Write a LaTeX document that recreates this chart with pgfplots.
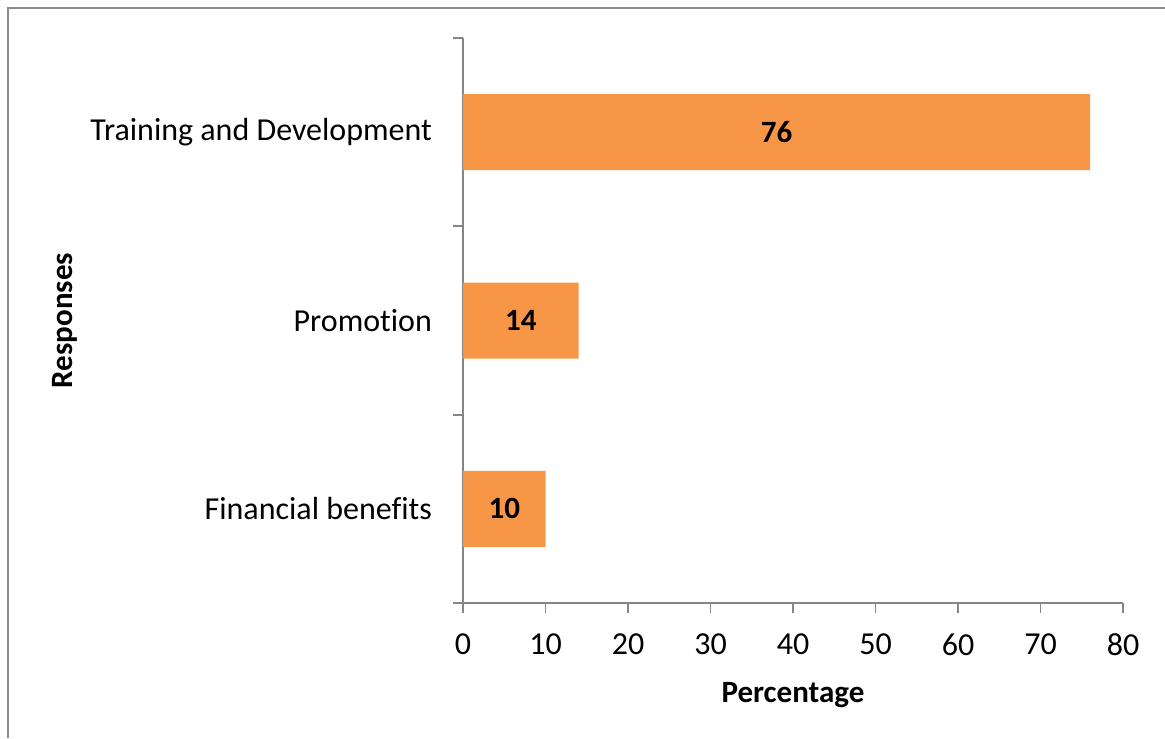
\documentclass[border=0pt]{standalone}
\usepackage{pgfplots}
\pgfplotsset{compat=1.18}
\usepackage{pgfplotstable}
\usepackage{fontspec}
\setmainfont{Carlito}[Ligatures=NoCommon]
\definecolor{barorange}{HTML}{F79646}
\definecolor{axgray}{HTML}{868686}
\definecolor{framegray}{HTML}{8C8C8C}
\pgfplotstableread{
y v
0 10
1 14
2 76
}\datatable
\begin{document}
\begin{tikzpicture}
\useasboundingbox (0pt,0pt) rectangle (582.5pt,-369pt);
\draw[framegray, line width=1.2pt] (4pt,-369pt) -- (4pt,-4pt) -- (582.5pt,-4pt);
\begin{axis}[
  at={(231.5pt,-301.5pt)}, anchor=south west,
  scale only axis, width=330pt, height=282.5pt,
  xmin=0, xmax=80, ymin=-0.5, ymax=2.5,
  axis lines*=left,
  axis line style={axgray, line width=0.9pt, -},
  /pgf/number format/assume math mode=true,
  xtick={0,10,...,80},
  ytick={-0.5,0.5,1.5,2.5}, yticklabels={},
  extra y ticks={0,1,2},
  extra y tick labels={Financial benefits, Promotion, Training and Development},
  extra y tick style={major tick length=0pt, yticklabel style={xshift=-12pt}},
  tick align=outside,
  major tick length=5pt,
  every tick/.style={axgray, line width=0.9pt},
  tick label style={font=\fontsize{16}{19}\selectfont, text=black},
  xticklabel style={yshift=-7pt},
  xlabel={Percentage},
  ylabel={Responses},
  label style={font=\fontsize{15.5}{18}\selectfont\bfseries},
  xlabel style={at={(axis description cs:0.5,-0.163)}, anchor=center},
  ylabel style={at={(axis description cs:-0.603,0.5)}, anchor=center},
  clip=false,
]
\addplot[xbar, bar width=38pt, fill=barorange, draw=none] table[x=v, y=y] {\datatable};
\addplot[only marks, mark=none, point meta=explicit,
  nodes near coords={\pgfmathprintnumber{\pgfplotspointmeta}},
  nodes near coords style={anchor=center, font=\fontsize{15.5}{18}\selectfont\bfseries, text=black}]
  table[x expr=\thisrow{v}/2, y=y, meta=v] {\datatable};
\end{axis}
\end{tikzpicture}
\end{document}
